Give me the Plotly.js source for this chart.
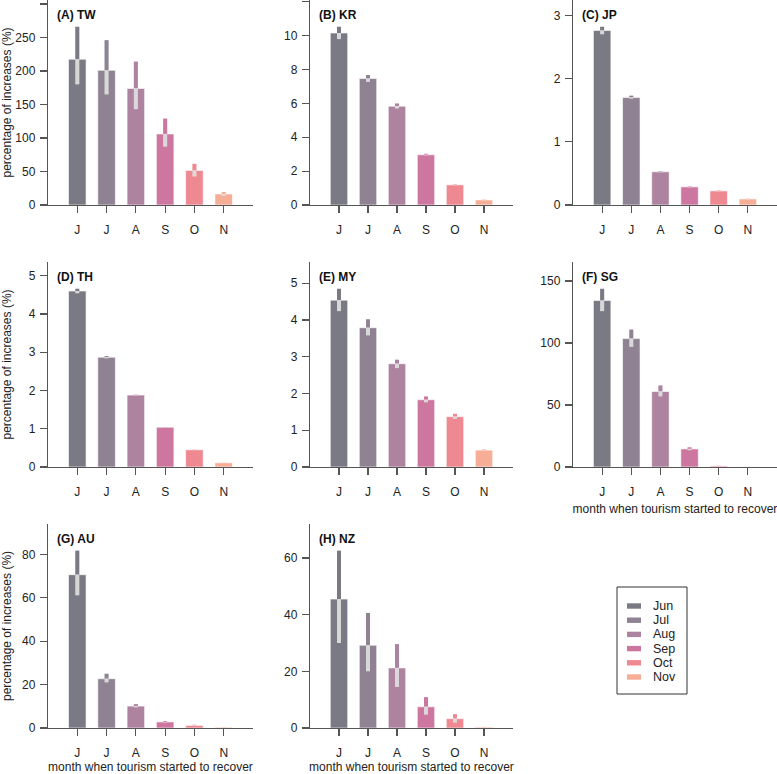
<!DOCTYPE html>
<html><head><meta charset="utf-8">
<script src="https://cdn.plot.ly/plotly-3.0.1.min.js"></script>
<style>html,body{margin:0;padding:0;background:#fff}#chart{width:777px;height:774px}</style>
</head><body><div id="chart"></div>
<script>
// ---- data ----
const months = ['Jun', 'Jul', 'Aug', 'Sep', 'Oct', 'Nov'];
const tickLabels = ['J', 'J', 'A', 'S', 'O', 'N'];
const monthColors = ['#7a7a85', '#8f8293', '#ae83a0', '#cd77a0', '#ee8891', '#f6ae97'];
const panelTitles = ['(A) TW', '(B) KR', '(C) JP', '(D) TH', '(E) MY', '(F) SG', '(G) AU', '(H) NZ'];
const yDticks = [50, 2, 1, 1, 1, 50, 20, 20];

const twMean  = [217.5, 201, 174, 106, 51.5, 16.5];
const twUpper = [266, 246, 214, 129, 61.5, 19.5];
const twLower = [180, 165, 143, 87, 42.5, 13.5];

const krMean  = [10.16, 7.47, 5.84, 2.97, 1.19, 0.30];
const krUpper = [10.53, 7.68, 6.00, 3.03, 1.22, 0.32];
const krLower = [9.80, 7.27, 5.70, 2.93, 1.16, 0.28];

const jpMean  = [2.76, 1.70, 0.526, 0.287, 0.223, 0.096];
const jpUpper = [2.82, 1.73, 0.536, 0.295, 0.231, 0.101];
const jpLower = [2.70, 1.68, 0.516, 0.279, 0.215, 0.091];

const thMean  = [4.60, 2.87, 1.88, 1.04, 0.45, 0.11];
const thUpper = [4.66, 2.90, 1.89, 1.045, 0.455, 0.115];
const thLower = [4.54, 2.84, 1.87, 1.035, 0.445, 0.105];

const myMean  = [4.54, 3.79, 2.81, 1.83, 1.37, 0.46];
const myUpper = [4.85, 4.02, 2.92, 1.92, 1.45, 0.48];
const myLower = [4.24, 3.58, 2.69, 1.76, 1.31, 0.45];

const sgMean  = [134.3, 103.6, 60.9, 14.6, 0.8, 0.1];
const sgUpper = [143.8, 110.9, 65.8, 15.9, 1.0, 0.15];
const sgLower = [125.7, 96.9, 56.9, 13.5, 0.6, 0.05];

const auMean  = [70.6, 22.7, 10.1, 2.8, 1.2, 0.35];
const auUpper = [81.7, 25.0, 11.0, 3.2, 1.5, 0.45];
const auLower = [61.1, 21.0, 9.5, 2.5, 1.0, 0.25];

const nzMean  = [45.5, 29.2, 21.2, 7.5, 3.3, 0.3];
const nzUpper = [62.6, 40.6, 29.6, 10.9, 4.9, 0.4];
const nzLower = [30.0, 20.0, 14.5, 4.7, 1.9, 0.2];

const means  = [twMean, krMean, jpMean, thMean, myMean, sgMean, auMean, nzMean];
const uppers = [twUpper, krUpper, jpUpper, thUpper, myUpper, sgUpper, auUpper, nzUpper];
const lowers = [twLower, krLower, jpLower, thLower, myLower, sgLower, auLower, nzLower];

const xTitle = 'month when tourism started to recover';
const yTitle = 'percentage of increases (%)';

// ---- layout geometry (pixels) ----
const W = 777, H = 774;
const colX = [[48, 253], [310, 513], [573, 777]];
const rowY = [[0, 205], [262, 467], [524, 728]];
const FONT = 'Liberation Sans, Arial, Helvetica, sans-serif';
const AXC = '#555';
const TICKSIZE = 12;

const idx = months.map((m, i) => i);
const traces = [];
const layout = {
  width: W, height: H,
  margin: {l: 0, r: 0, t: 0, b: 0},
  paper_bgcolor: '#fff', plot_bgcolor: '#fff',
  barmode: 'overlay',
  showlegend: false,
  font: {family: FONT, size: 12, color: '#222'},
  annotations: [], shapes: []
};

for (let k = 0; k < 8; k++) {
  const r = Math.floor(k / 3), c = k % 3;
  const sfx = k === 0 ? '' : String(k + 1);
  const xa = 'x' + sfx, ya = 'y' + sfx;
  const mean = means[k], up = uppers[k], lo = lowers[k];
  traces.push({
    type: 'bar', x: idx, y: mean, width: 0.6, xaxis: xa, yaxis: ya,
    marker: {color: monthColors, line: {color: 'rgba(255,255,255,0.75)', width: 0.8}},
    hoverinfo: 'skip'
  });
  traces.push({
    type: 'bar', x: idx, base: mean, y: up.map((u, i) => u - mean[i]), width: 0.14,
    xaxis: xa, yaxis: ya, marker: {color: monthColors, line: {width: 0}}, hoverinfo: 'skip'
  });
  traces.push({
    type: 'bar', x: idx, base: lo, y: mean.map((m, i) => m - lo[i]), width: 0.14,
    xaxis: xa, yaxis: ya, marker: {color: 'rgba(222,222,222,0.92)', line: {width: 0}}, hoverinfo: 'skip'
  });
  const ymax = Math.max(...up) * 1.15;
  const xd = [colX[c][0] / W, colX[c][1] / W];
  const yd = [1 - rowY[r][1] / H, 1 - rowY[r][0] / H];
  const xaxis = {
    domain: xd, anchor: ya, range: [-1, 6], tickmode: 'array', tickvals: idx, ticktext: tickLabels,
    showline: true, linecolor: AXC, linewidth: 1.2, ticks: 'outside', ticklen: 7, tickwidth: 1.2,
    tickcolor: AXC, showgrid: false, zeroline: false, fixedrange: true,
    tickfont: {family: FONT, size: TICKSIZE, color: '#222'}, ticklabelstandoff: 6
  };
  if (k >= 5) {
    xaxis.title = {text: xTitle, font: {family: FONT, size: 12, color: '#222'}, standoff: 7};
  }
  const yaxis = {
    domain: yd, anchor: xa, range: [0, ymax], dtick: yDticks[k], tick0: 0,
    showline: true, linecolor: AXC, linewidth: 1.2, ticks: 'outside', ticklen: 7, tickwidth: 1.2,
    tickcolor: AXC, showgrid: false, zeroline: false, fixedrange: true,
    tickfont: {family: FONT, size: TICKSIZE, color: '#222'}, ticklabelstandoff: 2
  };
  if (c === 0) {
    // keep the y titles aligned at the same x, whatever the tick label width
    const topTick = Math.floor(ymax / yDticks[k]) * yDticks[k];
    const nChars = String(topTick).length;
    const standoff = 4 + (3 - nChars) * TICKSIZE * 0.556;
    yaxis.title = {text: yTitle, font: {family: FONT, size: 12, color: '#222'}, standoff: standoff};
  }
  layout['xaxis' + sfx] = xaxis;
  layout['yaxis' + sfx] = yaxis;
  layout.annotations.push({
    xref: 'paper', yref: 'paper', x: (colX[c][0] + 7) / W, y: 1 - (rowY[r][0] + 15) / H,
    xanchor: 'left', yanchor: 'middle', showarrow: false, text: '<b>' + panelTitles[k] + '</b>',
    font: {family: FONT, size: 12, color: '#111'}
  });
}

// ---- legend (box + swatches + labels) ----
const lg = {x0: 617, y0: 587, x1: 687, y1: 694, sw0: 627, sw1: 641, tx: 651, first: 606, step: 14.2};
layout.shapes.push({
  type: 'rect', xref: 'paper', yref: 'paper',
  x0: lg.x0 / W, x1: lg.x1 / W, y0: 1 - lg.y1 / H, y1: 1 - lg.y0 / H,
  line: {color: '#333', width: 1}, fillcolor: 'rgba(0,0,0,0)'
});
months.forEach((m, i) => {
  const cy = lg.first + i * lg.step;
  layout.shapes.push({
    type: 'rect', xref: 'paper', yref: 'paper',
    x0: lg.sw0 / W, x1: lg.sw1 / W, y0: 1 - (cy + 2.7) / H, y1: 1 - (cy - 2.7) / H,
    line: {width: 0}, fillcolor: monthColors[i]
  });
  layout.annotations.push({
    xref: 'paper', yref: 'paper', x: lg.tx / W, y: 1 - cy / H, xanchor: 'left', yanchor: 'middle',
    showarrow: false, text: m, font: {family: FONT, size: 12.5, color: '#222'}
  });
});

Plotly.newPlot('chart', traces, layout, {displayModeBar: false, staticPlot: true});
</script></body></html>
